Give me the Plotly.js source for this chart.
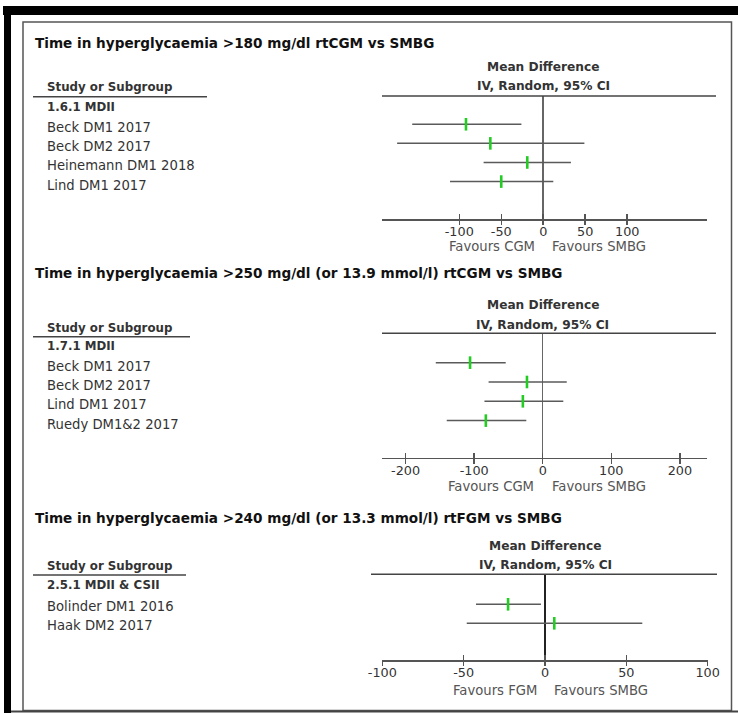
<!DOCTYPE html>
<html>
<head>
<meta charset="utf-8">
<script src="https://cdn.plot.ly/plotly-3.0.1.min.js"></script>
<style>html,body{margin:0;padding:0;background:#fff;}#chart{width:738px;height:713px;}</style>
</head>
<body>
<div id="chart"></div>
<script>
// ---------- data ----------
const titles = [
  'Time in hyperglycaemia >180 mg/dl rtCGM vs SMBG',
  'Time in hyperglycaemia >250 mg/dl (or 13.9 mmol/l) rtCGM vs SMBG',
  'Time in hyperglycaemia >240 mg/dl (or 13.3 mmol/l) rtFGM vs SMBG'
];
const subgroups = ['1.6.1 MDII', '1.7.1 MDII', '2.5.1 MDII & CSII'];
const favoursLeft = ['Favours CGM', 'Favours CGM', 'Favours FGM'];
const favoursRight = ['Favours SMBG', 'Favours SMBG', 'Favours SMBG'];

const studies1 = ['Beck DM1 2017', 'Beck DM2 2017', 'Heinemann DM1 2018', 'Lind DM1 2017'];
const md1 = [-92, -63, -19, -50];
const lo1 = [-156, -174, -71, -111];
const hi1 = [-26, 49, 33, 12];

const studies2 = ['Beck DM1 2017', 'Beck DM2 2017', 'Lind DM1 2017', 'Ruedy DM1&2 2017'];
const md2 = [-106, -23, -29, -83];
const lo2 = [-156, -79, -85, -140];
const hi2 = [-54, 35, 30, -24];

const studies3 = ['Bolinder DM1 2016', 'Haak DM2 2017'];
const md3 = [-22.7, 5.7];
const lo3 = [-42.4, -48.1];
const hi3 = [-2.5, 59.8];

const tickVals1 = [-100, -50, 0, 50, 100];
const tickText1 = ['-100', '-50', '0', '50', '100'];
const tickVals2 = [-200, -100, 0, 100, 200];
const tickText2 = ['-200', '-100', '0', '100', '200'];
const tickVals3 = [-100, -50, 0, 50, 100];
const tickText3 = ['-100', '-50', '0', '50', '100'];

// ---------- layout helpers ----------
const W = 738, H = 713;
const px = x => x / W;
const py = y => 1 - y / H;
const FONT = 'DejaVu Sans';
const GREEN = '#22cc22';
const LINE = '#555555';

function forestTrace(studies, md, lo, hi, xa, ya) {
  return {
    type: 'scatter', mode: 'markers',
    x: md, y: studies, xaxis: xa, yaxis: ya,
    marker: {symbol: 'line-ns', size: 9, color: GREEN, line: {color: GREEN, width: 2.6}},
    error_x: {
      type: 'data', symmetric: false,
      array: md.map((m, i) => hi[i] - m),
      arrayminus: md.map((m, i) => m - lo[i]),
      color: '#5a5a5a', thickness: 1.5, width: 0
    },
    hoverinfo: 'skip', showlegend: false, cliponaxis: false
  };
}

const data = [
  forestTrace(studies1, md1, lo1, hi1, 'x', 'y'),
  forestTrace(studies2, md2, lo2, hi2, 'x2', 'y2'),
  forestTrace(studies3, md3, lo3, hi3, 'x3', 'y3'),
  // empty traces that register the overlay tick axes
  {type: 'scatter', mode: 'markers', x: [], y: [], xaxis: 'x4', yaxis: 'y', hoverinfo: 'skip', showlegend: false},
  {type: 'scatter', mode: 'markers', x: [], y: [], xaxis: 'x5', yaxis: 'y2', hoverinfo: 'skip', showlegend: false},
  {type: 'scatter', mode: 'markers', x: [], y: [], xaxis: 'x6', yaxis: 'y3', hoverinfo: 'skip', showlegend: false}
];

// panel geometry (pixels)
const panels = [
  {xd: [382, 707], range: [-192, 195], top: 96, axis: 219, yr: [4.96, -1.48], tv: tickVals1, tt: tickText1, zc: '#666666',
   titleY: 43, md1Y: 67, md2Y: 86, sosY: 87, ulY: 96.7, ulX1: 207, subY: 107.5, favY: 247, hl: [382, 716], studies: studies1, labShift: -3.5},
  {xd: [382.3, 707.3], range: [-234, 240], top: 333.3, axis: 457.7, yr: [4.92, -1.52], tv: tickVals2, tt: tickText2, zc: '#666666',
   titleY: 273, md1Y: 305, md2Y: 325, sosY: 327.5, ulY: 336.7, ulX1: 190, subY: 346.5, favY: 486.7, hl: [382, 716], studies: studies2, labShift: -3.5},
  {xd: [382.3, 707.7], range: [-100, 100], top: 574.3, axis: 660, yr: [2.93, -1.58], tv: tickVals3, tt: tickText3, zc: '#222222',
   titleY: 518.3, md1Y: 546, md2Y: 565, sosY: 566, ulY: 575, ulX1: 186, subY: 585, favY: 690, hl: [371, 717], studies: studies3, labShift: -2.5}
];

const layout = {
  width: W, height: H,
  margin: {l: 0, r: 0, t: 0, b: 0, pad: 0},
  paper_bgcolor: '#ffffff', plot_bgcolor: 'rgba(0,0,0,0)',
  showlegend: false, hovermode: false,
  font: {family: FONT, size: 13, color: '#333333'},
  annotations: [], shapes: []
};

panels.forEach((p, k) => {
  const n = k === 0 ? '' : String(k + 1);
  const xDom = [px(p.xd[0]), px(p.xd[1])];
  // main axis: line, labels and the upper half of each tick
  layout['xaxis' + n] = {
    domain: xDom, range: p.range, anchor: 'y' + n,
    showline: true, linecolor: LINE, linewidth: 1.5,
    ticks: 'inside', ticklen: 5, tickwidth: 1.5, tickcolor: LINE,
    tickmode: 'array', tickvals: p.tv, ticktext: p.tt,
    tickfont: {family: FONT, size: 12.8, color: '#333333'},
    showgrid: false, zeroline: true, zerolinecolor: p.zc, zerolinewidth: 1.5,
    fixedrange: true
  };
  layout['yaxis' + n] = {
    domain: [py(p.axis), py(p.top)], range: p.yr, type: 'category', anchor: 'x' + n,
    showline: false, showticklabels: false, ticks: '', showgrid: false, zeroline: false,
    fixedrange: true
  };
  // overlay axis: lower half of each tick
  layout['xaxis' + (k + 4)] = {
    overlaying: 'x' + n, anchor: 'y' + n, domain: xDom, range: p.range,
    showline: false, ticks: 'outside', ticklen: 5, tickwidth: 1.5, tickcolor: LINE,
    tickmode: 'array', tickvals: p.tv, showticklabels: false,
    showgrid: false, zeroline: false, fixedrange: true
  };

  const A = layout.annotations, S = layout.shapes;
  A.push({xref: 'paper', yref: 'paper', x: px(33), y: py(p.titleY), xanchor: 'left', yanchor: 'middle',
          text: '<b>' + titles[k] + '</b>', showarrow: false, font: {family: FONT, size: 13.6, color: '#111111'}});
  A.push({xref: 'x' + n, yref: 'paper', x: 0, y: py(p.md1Y), xanchor: 'center', yanchor: 'middle',
          text: '<b>Mean Difference</b>', showarrow: false, font: {family: FONT, size: 12.2, color: '#333333'}});
  A.push({xref: 'x' + n, yref: 'paper', x: 0, y: py(p.md2Y), xanchor: 'center', yanchor: 'middle',
          text: '<b>IV, Random, 95% CI</b>', showarrow: false, font: {family: FONT, size: 12.2, color: '#333333'}});
  A.push({xref: 'paper', yref: 'paper', x: px(45), y: py(p.sosY), xanchor: 'left', yanchor: 'middle',
          text: '<b>Study or Subgroup</b>', showarrow: false, font: {family: FONT, size: 11.8, color: '#333333'}});
  A.push({xref: 'paper', yref: 'paper', x: px(45), y: py(p.subY), xanchor: 'left', yanchor: 'middle',
          text: '<b>' + subgroups[k] + '</b>', showarrow: false, font: {family: FONT, size: 11.8, color: '#333333'}});
  p.studies.forEach((s, i) => {
    A.push({xref: 'paper', yref: 'y' + n, x: px(45), y: i, yshift: p.labShift, xanchor: 'left', yanchor: 'middle',
            text: s, showarrow: false, font: {family: FONT, size: 13.2, color: '#333333'}});
  });
  A.push({xref: 'x' + n, yref: 'paper', x: 0, xshift: -6.5, y: py(p.favY), xanchor: 'right', yanchor: 'middle',
          text: favoursLeft[k], showarrow: false, font: {family: FONT, size: 13.2, color: '#555555'}});
  A.push({xref: 'x' + n, yref: 'paper', x: 0, xshift: 7, y: py(p.favY), xanchor: 'left', yanchor: 'middle',
          text: favoursRight[k], showarrow: false, font: {family: FONT, size: 13.2, color: '#555555'}});

  // header rule above forest area and underline of "Study or Subgroup"
  S.push({type: 'line', xref: 'paper', yref: 'paper', x0: px(p.hl[0]), x1: px(p.hl[1]), y0: py(p.top), y1: py(p.top),
          line: {color: '#444444', width: 1.5}});
  S.push({type: 'line', xref: 'paper', yref: 'paper', x0: px(33), x1: px(p.ulX1), y0: py(p.ulY), y1: py(p.ulY),
          line: {color: '#444444', width: 1.5}});
});

// frame
layout.shapes.push(
  {type: 'rect', xref: 'paper', yref: 'paper', x0: px(3), x1: px(738), y0: py(6), y1: py(15),
   fillcolor: '#000000', line: {width: 0}},
  {type: 'rect', xref: 'paper', yref: 'paper', x0: px(4), x1: px(11), y0: py(6), y1: py(713),
   fillcolor: '#000000', line: {width: 0}},
  {type: 'rect', xref: 'paper', yref: 'paper', x0: px(23), x1: px(731.5), y0: py(22), y1: py(710.5),
   line: {color: '#555555', width: 1.5}},
  {type: 'line', xref: 'paper', yref: 'paper', x0: px(11), x1: px(738), y0: py(711.5), y1: py(711.5),
   line: {color: '#444444', width: 2.2}}
);

Plotly.newPlot('chart', data, layout, {staticPlot: true, displayModeBar: false});
</script>
</body>
</html>
